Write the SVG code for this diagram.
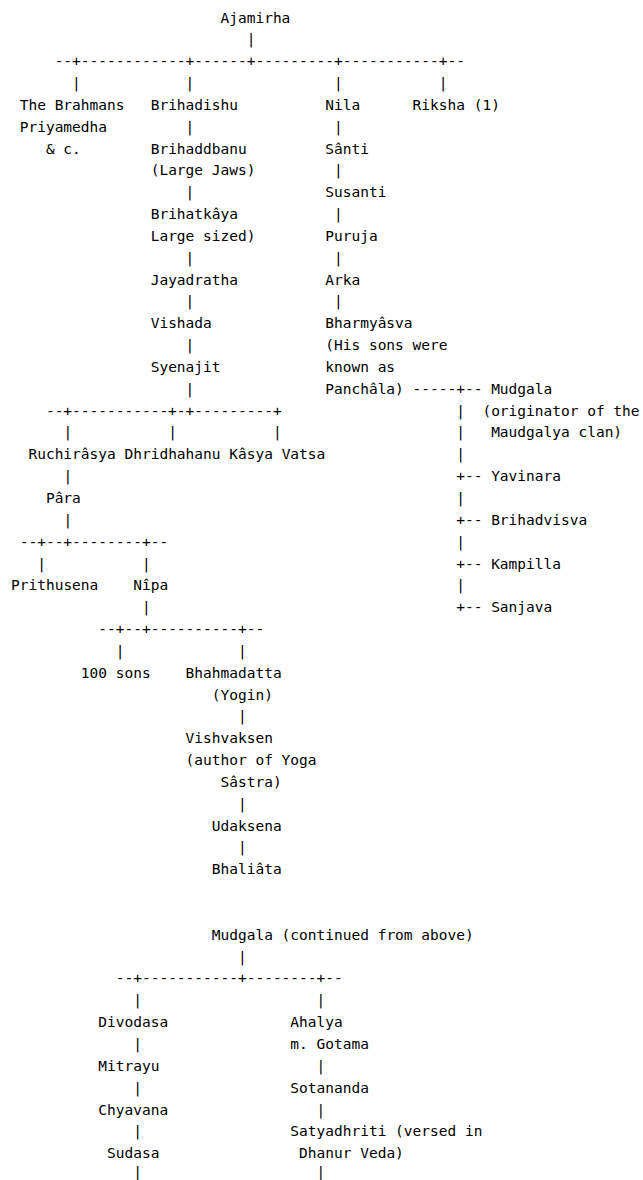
<svg xmlns="http://www.w3.org/2000/svg" width="643" height="1180" viewBox="0 0 643 1180">
<style>
text { font-family: "DejaVu Sans Mono", "Liberation Mono", monospace; font-size: 14.5px; fill: #000; white-space: pre; }
#diagram { opacity: 0.999; }
</style>
<rect width="643" height="1180" fill="#fff"/>
<g id="diagram">
<g id="connectors">
<text x="246.71" y="44.34">|</text>
<text x="54.65" y="66.18">--+------------+------+---------+-----------+--</text>
<text x="72.11" y="88.02">|</text><text x="185.6" y="88.02">|</text><text x="334.01" y="88.02">|</text><text x="438.77" y="88.02">|</text>
<text x="185.6" y="131.7">|</text><text x="334.01" y="131.7">|</text>
<text x="334.01" y="175.38">|</text>
<text x="185.6" y="197.22">|</text>
<text x="334.01" y="219.06">|</text>
<text x="185.6" y="262.74">|</text><text x="334.01" y="262.74">|</text>
<text x="185.6" y="306.42">|</text><text x="334.01" y="306.42">|</text>
<text x="185.6" y="350.1">|</text>
<text x="185.6" y="393.78">|</text><text x="412.58" y="393.78">-----+--</text>
<text x="45.92" y="415.62">--+-----------+-+---------+</text><text x="456.23" y="415.62">|</text>
<text x="63.38" y="437.46">|</text><text x="168.14" y="437.46">|</text><text x="272.9" y="437.46">|</text><text x="456.23" y="437.46">|</text>
<text x="456.23" y="459.3">|</text>
<text x="63.38" y="481.14">|</text><text x="456.23" y="481.14">+--</text>
<text x="456.23" y="502.98">|</text>
<text x="63.38" y="524.82">|</text><text x="456.23" y="524.82">+--</text>
<text x="19.73" y="546.66">--+--+--------+--</text><text x="456.23" y="546.66">|</text>
<text x="37.19" y="568.5">|</text><text x="141.95" y="568.5">|</text><text x="456.23" y="568.5">+--</text>
<text x="456.23" y="590.34">|</text>
<text x="141.95" y="612.18">|</text><text x="456.23" y="612.18">+--</text>
<text x="98.3" y="634.02">--+--+----------+--</text>
<text x="115.76" y="655.86">|</text><text x="237.98" y="655.86">|</text>
<text x="237.98" y="721.38">|</text>
<text x="237.98" y="808.74">|</text>
<text x="237.98" y="852.42">|</text>
<text x="237.98" y="961.62">|</text>
<text x="115.76" y="983.46">--+-----------+--------+--</text>
<text x="133.22" y="1005.3">|</text><text x="316.55" y="1005.3">|</text>
<text x="133.22" y="1048.98">|</text>
<text x="316.55" y="1070.82">|</text>
<text x="133.22" y="1092.66">|</text>
<text x="316.55" y="1114.5">|</text>
<text x="133.22" y="1136.34">|</text>
<text x="133.22" y="1176.5">|</text><text x="316.55" y="1176.5">|</text>
</g>
<g id="ajamirha"><text x="220.52" y="22.5">Ajamirha</text></g>
<g id="brahmans"><text x="19.73" y="109.86">The Brahmans</text><text x="19.73" y="131.7">Priyamedha</text><text x="45.92" y="153.54">&amp; c.</text></g>
<g id="brihadishu"><text x="150.68" y="109.86">Brihadishu</text></g>
<g id="nila"><text x="325.28" y="109.86">Nila</text></g>
<g id="riksha"><text x="412.58" y="109.86">Riksha (1)</text></g>
<g id="brihaddbanu"><text x="150.68" y="153.54">Brihaddbanu</text><text x="150.68" y="175.38">(Large Jaws)</text></g>
<g id="santi"><text x="325.28" y="153.54">Sânti</text></g>
<g id="susanti"><text x="325.28" y="197.22">Susanti</text></g>
<g id="brihatkaya"><text x="150.68" y="219.06">Brihatkâya</text><text x="150.68" y="240.9">Large sized)</text></g>
<g id="puruja"><text x="325.28" y="240.9">Puruja</text></g>
<g id="jayadratha"><text x="150.68" y="284.58">Jayadratha</text></g>
<g id="arka"><text x="325.28" y="284.58">Arka</text></g>
<g id="vishada"><text x="150.68" y="328.26">Vishada</text></g>
<g id="bharmyasva"><text x="325.28" y="328.26">Bharmyâsva</text><text x="325.28" y="350.1">(His sons were</text><text x="325.28" y="371.94">known as</text><text x="325.28" y="393.78">Panchâla)</text></g>
<g id="syenajit"><text x="150.68" y="371.94">Syenajit</text></g>
<g id="mudgala"><text x="491.15" y="393.78">Mudgala</text><text x="482.42" y="415.62">(originator of the</text><text x="491.15" y="437.46">Maudgalya clan)</text></g>
<g id="ruchirasya"><text x="28.46" y="459.3">Ruchirâsya</text></g>
<g id="dhridhahanu"><text x="124.49" y="459.3">Dhridhahanu</text></g>
<g id="kasya-vatsa"><text x="229.25" y="459.3">Kâsya Vatsa</text></g>
<g id="yavinara"><text x="491.15" y="481.14">Yavinara</text></g>
<g id="para"><text x="45.92" y="502.98">Pâra</text></g>
<g id="brihadvisva"><text x="491.15" y="524.82">Brihadvisva</text></g>
<g id="kampilla"><text x="491.15" y="568.5">Kampilla</text></g>
<g id="prithusena"><text x="11" y="590.34">Prithusena</text></g>
<g id="nipa"><text x="133.22" y="590.34">Nîpa</text></g>
<g id="sanjava"><text x="491.15" y="612.18">Sanjava</text></g>
<g id="sons100"><text x="80.84" y="677.7">100 sons</text></g>
<g id="bhahmadatta"><text x="185.6" y="677.7">Bhahmadatta</text><text x="211.79" y="699.54">(Yogin)</text></g>
<g id="vishvaksen"><text x="185.6" y="743.22">Vishvaksen</text><text x="185.6" y="765.06">(author of Yoga</text><text x="220.52" y="786.9">Sâstra)</text></g>
<g id="udaksena"><text x="211.79" y="830.58">Udaksena</text></g>
<g id="bhaliata"><text x="211.79" y="874.26">Bhaliâta</text></g>
<g id="mudgala-cont"><text x="211.79" y="939.78">Mudgala (continued from above)</text></g>
<g id="divodasa"><text x="98.3" y="1027.14">Divodasa</text></g>
<g id="ahalya"><text x="290.36" y="1027.14">Ahalya</text><text x="290.36" y="1048.98">m. Gotama</text></g>
<g id="mitrayu"><text x="98.3" y="1070.82">Mitrayu</text></g>
<g id="sotananda"><text x="290.36" y="1092.66">Sotananda</text></g>
<g id="chyavana"><text x="98.3" y="1114.5">Chyavana</text></g>
<g id="satyadhriti"><text x="290.36" y="1136.34">Satyadhriti (versed in</text><text x="299.09" y="1158.18">Dhanur Veda)</text></g>
<g id="sudasa"><text x="107.03" y="1158.18">Sudasa</text></g>
</g>
</svg>
